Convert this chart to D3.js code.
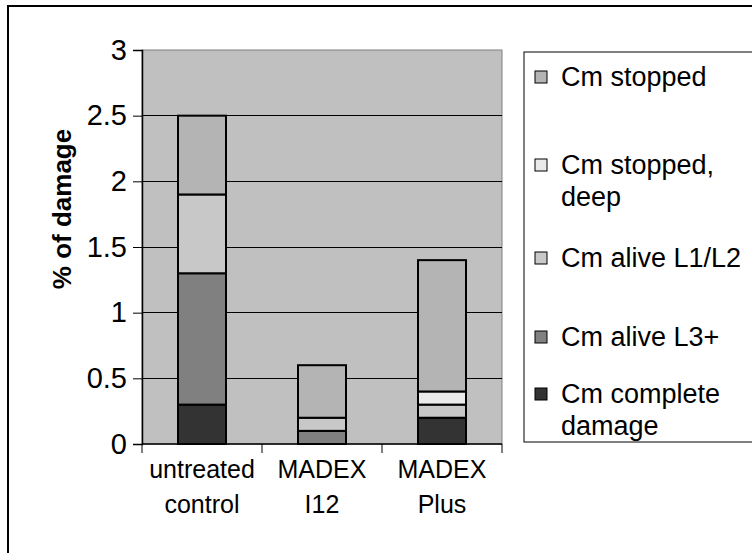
<!DOCTYPE html>
<html><head><meta charset="utf-8">
<script src="https://cdn.jsdelivr.net/npm/d3@7"></script>
<style>body{margin:0;background:#fff;overflow:hidden}svg{display:block}text{font-family:"Liberation Sans",Arial,sans-serif;fill:#000}</style>
</head><body><svg id="c" width="752" height="553"></svg>
<script>
const categories = [["untreated","control"],["MADEX","I12"],["MADEX","Plus"]];
const seriesNames = ["Cm complete damage","Cm alive L3+","Cm alive L1/L2","Cm stopped, deep","Cm stopped"];
const completeDamage = [0.3, 0.0, 0.2];
const aliveL3 = [1.0, 0.1, 0.0];
const aliveL1L2 = [0.6, 0.1, 0.1];
const stoppedDeep = [0.0, 0.0, 0.1];
const stopped = [0.6, 0.4, 1.0];
const yTicks = [0, 0.5, 1, 1.5, 2, 2.5, 3];
const colors = ["#333333","#808080","#c8c8c8","#eaeaea","#b4b4b4"];
const legendLines = [["Cm stopped"],["Cm stopped,","deep"],["Cm alive L1/L2"],["Cm alive L3+"],["Cm complete","damage"]];
const legendColors = ["#b4b4b4","#eaeaea","#c8c8c8","#808080","#333333"];

const svg = d3.select("#c");
svg.append("rect").attr("x",8).attr("y",6).attr("width",800).attr("height",600)
  .attr("fill","#fff").attr("stroke","#000").attr("stroke-width",2);

const L=142,R=502,T=50,B=444;
const x = d3.scaleBand().domain(d3.range(categories.length)).range([L,R]).paddingInner(0);
const y = d3.scaleLinear().domain([0,3]).range([B,T]);

svg.append("rect").attr("x",L).attr("y",T).attr("width",R-L).attr("height",B-T)
  .attr("fill","#c0c0c0").attr("stroke","#808080").attr("stroke-width",1);

svg.append("g").selectAll("line").data(yTicks.filter(d=>d>0&&d<3)).join("line")
  .attr("x1",L).attr("x2",R).attr("y1",d=>y(d)).attr("y2",d=>y(d))
  .attr("stroke","#000").attr("stroke-width",1).attr("shape-rendering","crispEdges");

const rows = categories.map((c,i)=>({i, v:[completeDamage[i],aliveL3[i],aliveL1L2[i],stoppedDeep[i],stopped[i]]}));
const keys = d3.range(5);
const stacked = d3.stack().keys(keys).value((d,k)=>d.v[k])(rows);
const bw = 48;
const g = svg.append("g");
stacked.forEach((layer,k)=>{
  g.selectAll(null).data(layer.filter(d=>d[1]-d[0]>0)).join("rect")
    .attr("x",d=>x(d.data.i)+x.bandwidth()/2-bw/2)
    .attr("width",bw)
    .attr("y",d=>y(d[1]))
    .attr("height",d=>y(d[0])-y(d[1]))
    .attr("fill",colors[k]).attr("stroke","#000").attr("stroke-width",2);
});

const ya = d3.axisLeft(y).tickValues(yTicks).tickSize(9).tickPadding(6).tickFormat(d3.format("~g"));
const yg = svg.append("g").attr("transform",`translate(${L},0)`).call(ya);
yg.select(".domain").attr("stroke","#000").attr("stroke-width",1.5);
yg.selectAll(".tick line").attr("stroke","#000");
yg.selectAll("text").attr("font-size",29).attr("font-family",null);

const xa = svg.append("g");
xa.append("line").attr("x1",L).attr("x2",R).attr("y1",B).attr("y2",B).attr("stroke","#000").attr("stroke-width",1.5);
const bounds = [L, ...categories.map((c,i)=>x(i)+x.bandwidth())];
xa.selectAll(".xt").data(bounds).join("line").attr("x1",d=>d).attr("x2",d=>d)
  .attr("y1",B).attr("y2",B+9).attr("stroke","#000").attr("stroke-width",1);
categories.forEach((c,i)=>{
  const t = xa.append("text").attr("text-anchor","middle").attr("font-size",25)
    .attr("x",x(i)+x.bandwidth()/2);
  c.forEach((s,j)=>t.append("tspan").attr("x",x(i)+x.bandwidth()/2).attr("y",478+j*35).text(s));
});

svg.append("text").attr("transform","translate(71,209) rotate(-90)")
  .attr("text-anchor","middle").attr("font-size",26).attr("font-weight","bold").text("% of damage");

svg.append("rect").attr("x",524).attr("y",52).attr("width",300).attr("height",390)
  .attr("fill","#fff").attr("stroke","#000").attr("stroke-width",1);
const legY = [77,165,258,337,394];
legendLines.forEach((lines,i)=>{
  svg.append("rect").attr("x",535).attr("y",legY[i]-6).attr("width",12).attr("height",12)
    .attr("fill",legendColors[i]).attr("stroke","#000").attr("stroke-width",1);
  const t = svg.append("text").attr("font-size",27);
  lines.forEach((s,j)=>t.append("tspan").attr("x",561).attr("y",legY[i]+9+j*32).text(s));
});
</script></body></html>
